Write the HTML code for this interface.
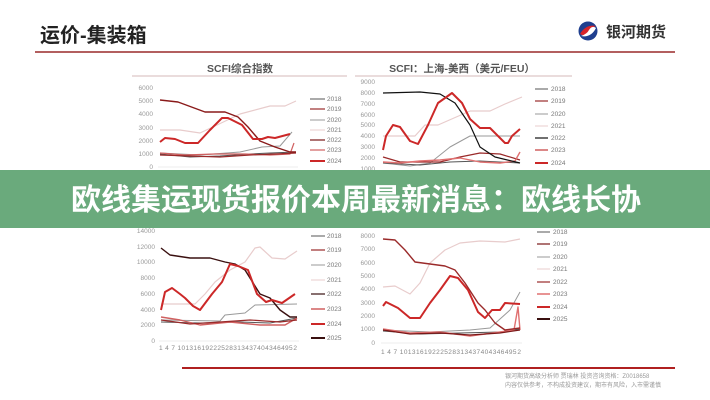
<!DOCTYPE html>
<html><head><meta charset="utf-8"><style>
html,body{margin:0;padding:0;background:#fff;width:710px;height:400px;overflow:hidden}
svg{display:block}
text{font-family:"Liberation Sans","Noto Sans CJK SC",sans-serif}
</style></head><body>
<svg width="710" height="400" viewBox="0 0 710 400" xmlns="http://www.w3.org/2000/svg">
<rect width="710" height="400" fill="#fff"/>
<text x="40" y="42" font-size="20" font-weight="bold" fill="#222">运价-集装箱</text>
<line x1="35" y1="52" x2="675" y2="52" stroke="#9a2a2a" stroke-width="1.6"/>
<circle cx="588" cy="31" r="9.5" fill="#1f3f8f"/>
<path d="M580 34 q6 -10 16 -8 q-6 2 -8 6 q-3 5 -8 2z" fill="#d8242a"/>
<path d="M596 28 q-5 10 -15 8 q6 -2 8 -6 q3 -5 7 -2z" fill="#fff"/>
<text x="606" y="37" font-size="15" font-weight="bold" fill="#333">银河期货</text>

<text x="240" y="72" font-size="10.5" font-weight="bold" fill="#555" text-anchor="middle">SCFI综合指数</text>
<line x1="132" y1="76" x2="347" y2="76" stroke="#c9a0a0" stroke-width="0.8"/>
<text x="462" y="72" font-size="10.5" font-weight="bold" fill="#555" text-anchor="middle">SCFI：上海-美西（美元/FEU）</text>
<line x1="355" y1="76" x2="572" y2="76" stroke="#c9a0a0" stroke-width="0.8"/>

<g font-size="6.5" fill="#999" text-anchor="end">
<text x="153" y="90">6000</text><text x="153" y="103">5000</text><text x="153" y="116">4000</text><text x="153" y="130">3000</text><text x="153" y="143">2000</text><text x="153" y="156">1000</text><text x="153" y="169">0</text>
<text x="375" y="84">9000</text><text x="375" y="95">8000</text><text x="375" y="106">7000</text><text x="375" y="117">6000</text><text x="375" y="127">5000</text><text x="375" y="138">4000</text><text x="375" y="149">3000</text><text x="375" y="160">2000</text><text x="375" y="171">1000</text><text x="375" y="181">0</text>
<text x="155" y="233">14000</text><text x="155" y="249">12000</text><text x="155" y="264">10000</text><text x="155" y="280">8000</text><text x="155" y="296">6000</text><text x="155" y="312">4000</text><text x="155" y="327">2000</text><text x="155" y="343">0</text>
<text x="375" y="225">9000</text><text x="375" y="238">8000</text><text x="375" y="251">7000</text><text x="375" y="265">6000</text><text x="375" y="278">5000</text><text x="375" y="291">4000</text><text x="375" y="305">3000</text><text x="375" y="318">2000</text><text x="375" y="331">1000</text><text x="375" y="345">0</text>
</g>
<g font-size="6.5" fill="#888">
<text x="158" y="175" textLength="138" lengthAdjust="spacing">1 4 7 10131619222528313437404346495​2</text>
<text x="381" y="187" textLength="140" lengthAdjust="spacing">1 4 7 10131619222528313437404346495​2</text>
<text x="159" y="350" textLength="138" lengthAdjust="spacing">1 4 7 10131619222528313437404346495​2</text>
<text x="381" y="354" textLength="140" lengthAdjust="spacing">1 4 7 10131619222528313437404346495​2</text>
</g>
<g stroke="#ddd" stroke-width="0.6">
<line x1="158" y1="167" x2="298" y2="167"/><line x1="381" y1="179" x2="523" y2="179"/>
<line x1="159" y1="341" x2="299" y2="341"/><line x1="381" y1="343" x2="522" y2="343"/>
</g>

<g font-size="6.5" fill="#777">
<line x1="310" y1="99" x2="325" y2="99" stroke="#555"/><text x="327" y="101">2018</text>
<line x1="310" y1="109" x2="325" y2="109" stroke="#9a2a2a" stroke-width="1.2"/><text x="327" y="111">2019</text>
<line x1="310" y1="120" x2="325" y2="120" stroke="#999"/><text x="327" y="122">2020</text>
<line x1="310" y1="130" x2="325" y2="130" stroke="#e8cccc"/><text x="327" y="132">2021</text>
<line x1="310" y1="140" x2="325" y2="140" stroke="#7a1818" stroke-width="1.2"/><text x="327" y="142">2022</text>
<line x1="310" y1="150" x2="325" y2="150" stroke="#d06060" stroke-width="1.2"/><text x="327" y="152">2023</text>
<line x1="310" y1="161" x2="325" y2="161" stroke="#cc2828" stroke-width="2"/><text x="327" y="163">2024</text>

<line x1="535" y1="89" x2="548" y2="89" stroke="#555"/><text x="551" y="91">2018</text>
<line x1="535" y1="101" x2="548" y2="101" stroke="#9a2a2a" stroke-width="1.2"/><text x="551" y="103">2019</text>
<line x1="535" y1="114" x2="548" y2="114" stroke="#999"/><text x="551" y="116">2020</text>
<line x1="535" y1="126" x2="548" y2="126" stroke="#e8cccc"/><text x="551" y="128">2021</text>
<line x1="535" y1="138" x2="548" y2="138" stroke="#111" stroke-width="1.2"/><text x="551" y="140">2022</text>
<line x1="535" y1="150" x2="548" y2="150" stroke="#d06060" stroke-width="1.5"/><text x="551" y="152">2023</text>
<line x1="535" y1="163" x2="548" y2="163" stroke="#cc2828" stroke-width="2"/><text x="551" y="165">2024</text>

<line x1="311" y1="236" x2="325" y2="236" stroke="#555"/><text x="327" y="238">2018</text>
<line x1="311" y1="250" x2="325" y2="250" stroke="#9a2a2a" stroke-width="1.2"/><text x="327" y="252">2019</text>
<line x1="311" y1="265" x2="325" y2="265" stroke="#999"/><text x="327" y="267">2020</text>
<line x1="311" y1="280" x2="325" y2="280" stroke="#e8cccc"/><text x="327" y="282">2021</text>
<line x1="311" y1="294" x2="325" y2="294" stroke="#3a1010" stroke-width="1.2"/><text x="327" y="296">2022</text>
<line x1="311" y1="309" x2="325" y2="309" stroke="#d06060" stroke-width="1.5"/><text x="327" y="311">2023</text>
<line x1="311" y1="324" x2="325" y2="324" stroke="#cc2828" stroke-width="2"/><text x="327" y="326">2024</text>
<line x1="311" y1="338" x2="325" y2="338" stroke="#3a1010" stroke-width="2"/><text x="327" y="340">2025</text>

<line x1="537" y1="232" x2="550" y2="232" stroke="#555"/><text x="553" y="234">2018</text>
<line x1="537" y1="244" x2="550" y2="244" stroke="#7a1818" stroke-width="1.2"/><text x="553" y="246">2019</text>
<line x1="537" y1="257" x2="550" y2="257" stroke="#999"/><text x="553" y="259">2020</text>
<line x1="537" y1="269" x2="550" y2="269" stroke="#e8cccc"/><text x="553" y="271">2021</text>
<line x1="537" y1="282" x2="550" y2="282" stroke="#9a2a2a" stroke-width="1.2"/><text x="553" y="284">2022</text>
<line x1="537" y1="294" x2="550" y2="294" stroke="#e07070" stroke-width="1.5"/><text x="553" y="296">2023</text>
<line x1="537" y1="307" x2="550" y2="307" stroke="#cc2828" stroke-width="2"/><text x="553" y="309">2024</text>
<line x1="537" y1="319" x2="550" y2="319" stroke="#3a1010" stroke-width="2"/><text x="553" y="321">2025</text>
</g>

<g fill="none" stroke-linejoin="round">
<polyline stroke="#e8cccc" stroke-width="1.2" points="160,130 180,130 200,133 215,126 240,114 270,106 285,106 296,101"/>
<polyline stroke="#999" stroke-width="1" points="160,153 200,155 240,152 262,147 280,146 292,132"/>
<polyline stroke="#555" stroke-width="1" points="160,154 190,157 220,156 250,154 270,153 296,152"/>
<polyline stroke="#d06060" stroke-width="1.2" points="160,153 185,155 215,154 245,154 270,155 290,154 294,143"/>
<polyline stroke="#9a2a2a" stroke-width="1.2" points="160,155 190,156 220,157 250,155 275,154 296,153"/>
<polyline stroke="#8a1a1a" stroke-width="1.4" points="160,100 178,102 205,112 225,112 238,117 248,127 260,141 275,147 290,152 296,152"/>
<polyline stroke="#cc2828" stroke-width="2" points="160,142 165,138 175,139 185,143 198,143 210,130 222,118 228,118 242,125 253,139 262,139 268,137 275,138 290,134"/>
<polyline stroke="#e8cccc" stroke-width="1.2" points="383,136 415,136 425,125 438,125 470,111 490,111 505,104 522,97"/>
<polyline stroke="#999" stroke-width="1" points="383,163 410,166 430,163 440,155 450,147 470,136 520,136"/>
<polyline stroke="#555" stroke-width="1" points="383,163 420,165 450,162 480,161 520,163"/>
<polyline stroke="#9a2a2a" stroke-width="1.2" points="383,157 400,162 440,162 460,157 480,153 500,154 520,160"/>
<polyline stroke="#e07070" stroke-width="1.4" points="383,162 400,163 420,161 440,160 460,158 480,162 500,163 515,161 520,152"/>
<polyline stroke="#111" stroke-width="1.2" points="383,93 420,92 440,94 455,103 470,125 480,147 495,157 520,163"/>
<polyline stroke="#cc2828" stroke-width="2" points="383,150 386,136 393,125 400,127 410,141 418,144 428,125 438,103 452,93 462,103 470,119 480,128 490,128 505,143 508,143 512,136 520,129"/>
<polyline stroke="#e8cccc" stroke-width="1.2" points="161,304 195,304 205,294 215,282 230,270 245,262 255,248 260,247 272,258 285,259 297,251"/>
<polyline stroke="#999" stroke-width="1" points="161,320 220,321 225,315 245,313 255,305 297,304"/>
<polyline stroke="#555" stroke-width="1" points="161,322 200,323 240,322 270,323 297,318"/>
<polyline stroke="#d06060" stroke-width="1.4" points="161,317 180,320 200,325 230,322 260,325 285,325 297,318"/>
<polyline stroke="#9a2a2a" stroke-width="1.2" points="161,320 190,324 220,322 250,320 280,322 297,320"/>
<polyline stroke="#3a1010" stroke-width="1.4" points="161,248 170,255 190,258 210,258 225,262 235,264 245,270 260,294 270,298 280,310 290,317 297,317"/>
<polyline stroke="#cc2828" stroke-width="2" points="161,310 165,292 172,288 180,294 185,298 193,306 200,310 212,294 222,282 230,264 238,266 248,270 257,294 266,302 272,300 282,303 295,294"/>
<polyline stroke="#e8cccc" stroke-width="1.2" points="383,287 395,286 410,294 420,283 430,263 445,250 460,243 480,241 505,242 520,239"/>
<polyline stroke="#999" stroke-width="1" points="383,330 430,332 470,330 490,328 510,310 520,292"/>
<polyline stroke="#555" stroke-width="1" points="383,331 420,334 460,333 500,332 520,329"/>
<polyline stroke="#e07070" stroke-width="1.4" points="383,329 410,333 440,332 470,336 500,332 514,330 518,307 520,330"/>
<polyline stroke="#7a1818" stroke-width="1.2" points="383,330 410,334 440,333 470,335 500,333 520,330"/>
<polyline stroke="#9a2a2a" stroke-width="1.4" points="383,239 395,240 405,250 415,262 430,264 445,266 455,270 465,283 478,303 485,310 495,323 505,330 520,328"/>
<polyline stroke="#cc2828" stroke-width="2" points="383,306 386,302 398,308 410,318 420,318 430,303 440,290 450,276 458,278 468,290 478,312 485,318 492,310 500,310 505,303 520,304"/>
</g>

<rect x="0" y="170" width="710" height="58" fill="#6aaa7c"/>
<text x="356" y="210" font-size="30" font-weight="bold" fill="#fff" text-anchor="middle" font-family="Noto Sans CJK SC,sans-serif">欧线集运现货报价本周最新消息：欧线长协</text>

<line x1="182" y1="368" x2="675" y2="368" stroke="#b02020" stroke-width="2"/>
<text x="505" y="378" font-size="6" fill="#999">银河期货高级分析师 贾瑞林 投资咨询资格：Z0018658</text>
<text x="505" y="387" font-size="6" fill="#999">内容仅供参考，不构成投资建议，期市有风险，入市需谨慎</text>
</svg>
</body></html>
